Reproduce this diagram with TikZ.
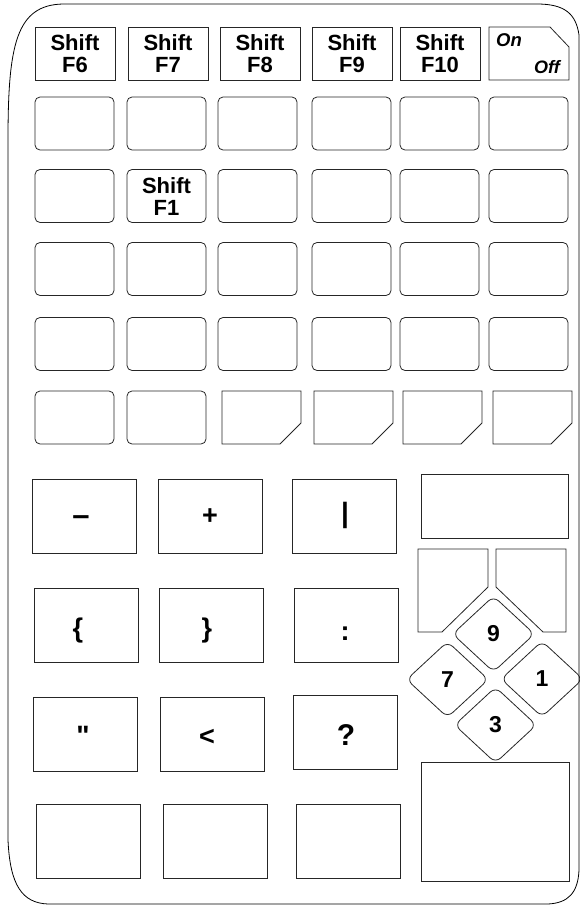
\documentclass[tikz,border=0pt]{standalone}
\usepackage{fontspec}
\setmainfont{Liberation Sans}
\newfontfamily\rawsans[Ligatures=ResetAll]{Liberation Sans}
\usetikzlibrary{shapes.geometric}
\begin{document}
\begin{tikzpicture}[x=1pt,y=-1pt,
  lw/.style={line width=0.8pt, draw=black!85},
  fkey/.style={lw, minimum width=80pt, minimum height=53pt, inner sep=0pt, align=center,
    font=\bfseries\fontsize{22}{22}\selectfont},
  rkey/.style={lw, rounded corners=5pt, minimum width=79pt, minimum height=53pt, inner sep=0pt, align=center,
    font=\bfseries\fontsize{22}{22}\selectfont},
  bkey/.style={lw, minimum width=104pt, minimum height=74pt, inner sep=0pt},
  sym/.style={inner sep=0pt, font=\bfseries\fontsize{27}{27}\selectfont},
  dkey/.style={lw, diamond, rounded corners=7pt, minimum width=82pt, minimum height=76pt, inner sep=0pt,
    font=\bfseries\fontsize{23}{23}\selectfont},
  plain/.style={lw}]
\useasboundingbox (0,0) rectangle (580,905);
% outer frame
\draw[line width=0.8pt] (63,4) -- (537,4) .. controls (565,4) and (576,14) .. (579,35) -- (579,870)
  .. controls (578,893) and (568,903) .. (548,904) -- (48,904)
  .. controls (22,903) and (10,885) .. (8,840) -- (8,140)
  .. controls (8,45) and (16,5) .. (63,4);
% top row
\node[fkey] (f6) at (75,53.5) {Shift\\F6};
\node[fkey] (f7) at (168,53.5) {Shift\\F7};
\node[fkey] (f8) at (260,53.5) {Shift\\F8};
\node[fkey] (f9) at (352,53.5) {Shift\\F9};
\node[fkey] (f10) at (440,53.5) {Shift\\F10};
\draw[plain] (489,27) -- (550,27) -- (569,47) -- (569,80) -- (489,80) -- cycle;
\node[anchor=west, inner sep=0pt, font=\bfseries\itshape\fontsize{18.5}{18.5}\selectfont] (on) at (496,40) {On};
\node[anchor=east, inner sep=0pt, font=\bfseries\itshape\fontsize{18}{18}\selectfont] (off) at (560,67) {Off};
% rounded key rows
\foreach \r/\yc in {2/123.5,3/196,4/269,5/344}{
  \foreach \c/\xc in {1/74.5,2/166.5,3/257.5,4/351.5,5/439.5,6/528.5}{
    \node[rkey] (k\r\c) at (\xc,\yc) {};
  }
}
\node[font=\bfseries\fontsize{22}{22}\selectfont, align=center, inner sep=0pt] (sf1) at (166.5,197) {Shift\\F1};
% row 6
\node[rkey] (k61) at (74.5,417.5) {};
\node[rkey] (k62) at (166.5,417.5) {};
\foreach \l in {222,314,403,493}{
  \draw[plain] (\l,391) -- (\l+79,391) -- (\l+79,423) -- (\l+58,444) -- (\l,444) -- cycle;
}
% lower left block
\node[bkey] (minus) at (84.5,516) {};
\node[bkey] (plus) at (210,516) {};
\node[bkey] (bar) at (344.5,516) {};
\node[bkey] (lbr) at (86,625) {};
\node[bkey] (rbr) at (211.5,625) {};
\node[bkey] (colon) at (346.5,625) {};
\node[bkey] (quote) at (85.5,734) {};
\node[bkey] (less) at (212,734) {};
\node[bkey] (ques) at (345.5,732.5) {};
\node[bkey] (b1) at (88,841.5) {};
\node[bkey] (b2) at (215,841.5) {};
\node[bkey] (b3) at (348.5,841.5) {};
\node[sym, font=\bfseries\fontsize{31}{31}\selectfont] (tminus) at (81,520.5) {–};
\node[sym] (tplus) at (210,517) {+};
\node[sym, font=\bfseries\fontsize{28}{28}\selectfont] (tbar) at (345,515) {|};
\node[sym] (tlbr) at (78,631) {\{};
\node[sym] (trbr) at (207,631) {\}};
\node[sym] (tcol) at (345,634) {:};
\node[sym, anchor=base, font=\rawsans\bfseries\fontsize{28}{28}\selectfont] (tquo) at (83,745) {"};
\node[sym, anchor=base] (tless) at (207,745) {<};
\node[sym, anchor=base, font=\bfseries\fontsize{30}{30}\selectfont] (tque) at (346,745) {?};
% right cluster
\node[lw, minimum width=147pt, minimum height=64pt, inner sep=0pt] (top) at (494.5,506) {};
\draw[plain] (418,549) -- (488,549) -- (488,587) -- (442,632) -- (418,632) -- cycle;
\draw[plain] (496,549) -- (566,549) -- (566,632) -- (543,632) -- (496,587) -- cycle;
\node[dkey] (d9) at (493.5,634) {9};
\node[dkey] (d7) at (447.5,679.5) {7};
\node[dkey] (d1) at (542,679) {1};
\node[dkey] (d3) at (495.5,725) {3};
\node[lw, minimum width=148pt, minimum height=119pt, inner sep=0pt] (big) at (495,821.5) {};
\end{tikzpicture}
\end{document}
